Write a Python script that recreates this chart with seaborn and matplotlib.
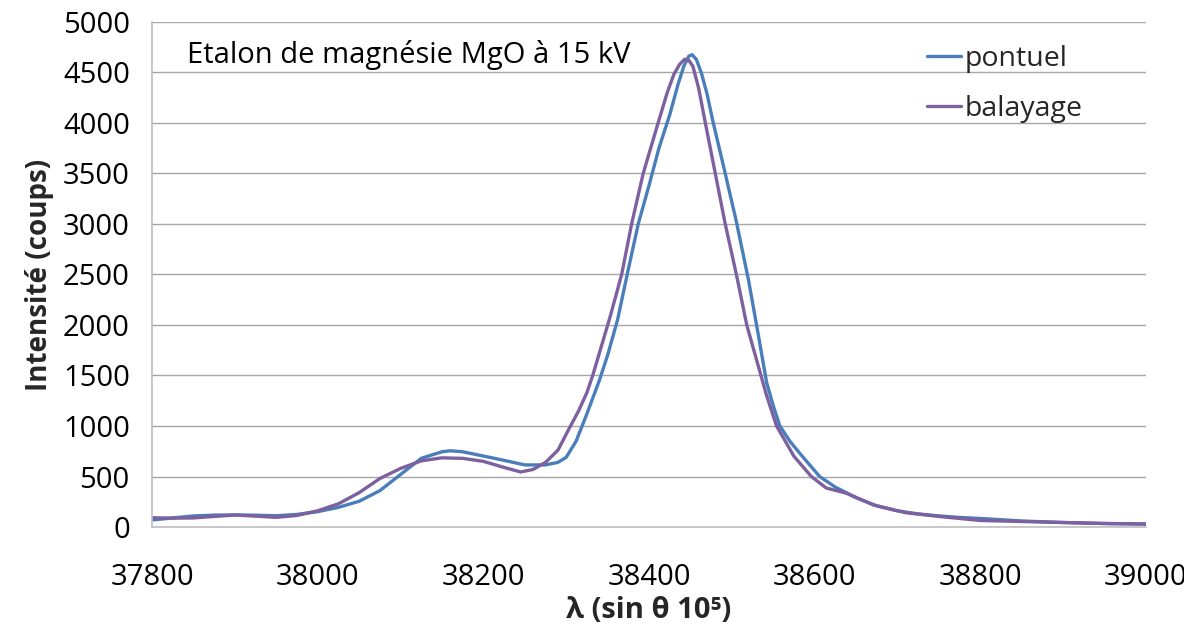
import matplotlib
matplotlib.use("Agg")
import matplotlib.pyplot as plt
import seaborn as sns
import pandas as pd

# Wavelength positions (sin theta x 1e5) and measured intensities (counts)
x_pontuel = [37800, 37825, 37850, 37875, 37900, 37925, 37950, 37975, 38000, 38025,
             38050, 38075, 38100, 38125, 38150, 38160, 38175, 38200, 38225, 38250,
             38275, 38290, 38300, 38312, 38325, 38340, 38350, 38362, 38375, 38387,
             38400, 38412, 38425, 38435, 38442, 38448, 38452, 38457, 38463, 38470,
             38477, 38490, 38505, 38520, 38532, 38542, 38550, 38558, 38570, 38582,
             38606, 38625, 38650, 38675, 38700, 38725, 38750, 38775, 38800, 38850,
             38900, 38950, 39000]
y_pontuel = [70, 90, 110, 118, 120, 117, 112, 125, 152, 195,
             255, 360, 520, 680, 745, 755, 745, 703, 660, 615,
             615, 640, 690, 850, 1120, 1450, 1700, 2050, 2550, 3000,
             3380, 3750, 4080, 4380, 4560, 4660, 4675, 4630, 4500, 4290,
             4020, 3570, 3040, 2450, 1900, 1430, 1200, 1000, 850, 730,
             500, 395, 290, 210, 160, 130, 110, 95, 85, 60,
             45, 35, 30]

x_balayage = [37800, 37825, 37850, 37875, 37900, 37925, 37950, 37975, 38000, 38025,
              38050, 38075, 38100, 38125, 38150, 38175, 38200, 38225, 38245, 38260,
              38275, 38290, 38302, 38315, 38325, 38332, 38340, 38353, 38367, 38379,
              38393, 38411, 38422, 38430, 38437, 38443, 38448, 38453, 38460, 38468,
              38480, 38492, 38506, 38518, 38530, 38542, 38554, 38575, 38596, 38614,
              38638, 38671, 38710, 38750, 38800, 38850, 38900, 38950, 39000]
y_balayage = [92, 88, 90, 105, 119, 108, 96, 115, 161, 230,
              340, 480, 580, 655, 685, 680, 650, 590, 545, 570,
              640, 760, 950, 1150, 1330, 1500, 1720, 2080, 2500, 3000,
              3500, 4000, 4300, 4480, 4580, 4630, 4620, 4560, 4340, 4000,
              3500, 3000, 2480, 2000, 1650, 1300, 1000, 700, 500, 386,
              336, 218, 142, 105, 65, 55, 45, 35, 30]

series_names = ["pontuel", "balayage"]
series_colors = ["#4A7EBB", "#7D60A0"]

x_ticks = [37800, 38000, 38200, 38400, 38600, 38800, 39000]
y_ticks = [0, 500, 1000, 1500, 2000, 2500, 3000, 3500, 4000, 4500, 5000]

df = pd.concat([
    pd.DataFrame({"lam": x_pontuel, "counts": y_pontuel, "mode": series_names[0]}),
    pd.DataFrame({"lam": x_balayage, "counts": y_balayage, "mode": series_names[1]}),
], ignore_index=True)

sns.set_theme(style="white")
plt.rcParams["font.family"] = ["Open Sans", "Noto Sans", "DejaVu Sans"]

fig = plt.figure(figsize=(11.84, 6.35), dpi=100)
ax = fig.add_axes([0.1284, 0.170, 0.8395, 0.7956])

sns.lineplot(data=df, x="lam", y="counts", hue="mode", hue_order=series_names,
             palette=series_colors, linewidth=2.4, sort=False, estimator=None, ax=ax)
for ln in ax.lines:
    ln.set_solid_joinstyle("round")
    ln.set_solid_capstyle("round")

ax.set_xlim(37800, 39000)
ax.set_ylim(0, 5000)
ax.set_xticks(x_ticks)
ax.set_yticks(y_ticks)
ax.tick_params(axis="both", labelsize=21, labelcolor="black")
ax.tick_params(axis="x", direction="inout", length=14, width=1, color="#a6a6a6", pad=19)
ax.tick_params(axis="y", direction="out", length=5, width=1, color="#a6a6a6", pad=11)

ax.yaxis.grid(True, color="#a6a6a6", linewidth=1)
ax.xaxis.grid(False)
for side in ["top", "right"]:
    ax.spines[side].set_visible(False)
for side in ["left", "bottom"]:
    ax.spines[side].set_color("#bfbfbf")
    ax.spines[side].set_linewidth(1.2)

ax.set_xlabel("λ (sin θ 10⁵)", fontsize=21, fontweight="bold", labelpad=3)
ax.set_ylabel("Intensité (coups)", fontsize=20, fontweight="bold", labelpad=6)

ax.text(0.0352, 0.934, "Etalon de magnésie MgO à 15 kV", transform=ax.transAxes,
        fontsize=21, va="center", ha="left", color="black")

leg = ax.legend(loc="upper left", bbox_to_anchor=(0.7797, 0.955), frameon=False,
                borderpad=0, borderaxespad=0,
                fontsize=20.5, handlelength=1.2, handletextpad=0.12, labelspacing=0.8)
for h in leg.get_lines():
    h.set_linewidth(2.4)

fig.savefig("out.png", dpi=100)
